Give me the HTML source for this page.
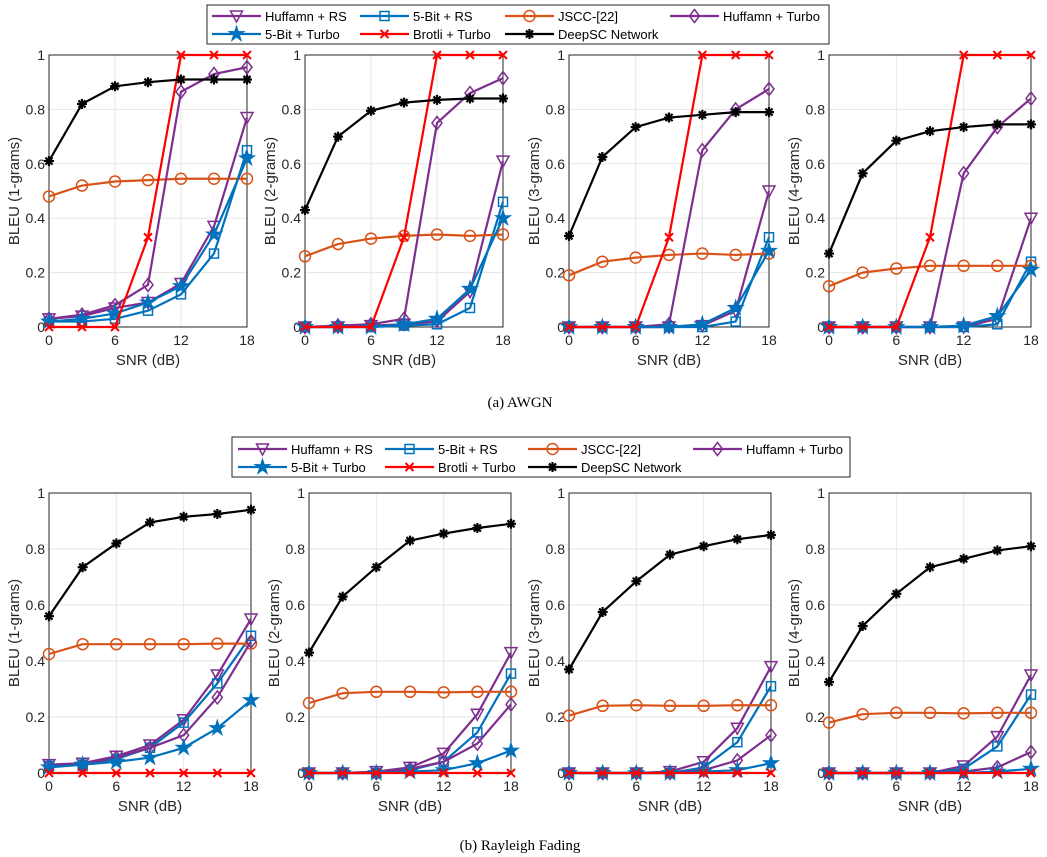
<!DOCTYPE html>
<html><head><meta charset="utf-8"><style>
body{margin:0;background:#fff;}
svg{display:block;font-family:"Liberation Sans",sans-serif;}
</style></head><body>
<svg id="fig" width="1047" height="857" viewBox="0 0 1047 857" xmlns="http://www.w3.org/2000/svg">
<text x="520" y="407" text-anchor="middle" font-family="Liberation Serif,serif" font-size="15">(a)  AWGN</text>
<text x="520" y="850" text-anchor="middle" font-family="Liberation Serif,serif" font-size="15">(b)  Rayleigh Fading</text>
</svg>
<script>
const snr=[0,3,6,9,12,15,18];
const xTicks=[0,6,12,18];
const yTicks=[0,0.2,0.4,0.6,0.8,1];
const yTickLabels=['0','0.2','0.4','0.6','0.8','1'];
const seriesNames=['Huffamn + RS','5-Bit + RS','JSCC-[22]','Huffamn + Turbo','5-Bit + Turbo','Brotli + Turbo','DeepSC Network'];
// AWGN
const awgn1=[[.03,.04,.07,.09,.16,.37,.77],[.02,.02,.03,.06,.12,.27,.65],[.48,.52,.535,.54,.545,.545,.545],[.03,.045,.08,.155,.865,.93,.955],[.02,.03,.05,.09,.15,.34,.62],[0,0,0,.33,1,1,1],[.61,.82,.885,.9,.91,.91,.91]];
const awgn2=[[0,0,.005,.01,.02,.13,.61],[0,0,0,.005,.01,.07,.46],[.26,.305,.325,.335,.34,.335,.34],[0,.005,.01,.03,.75,.86,.915],[0,0,0,.01,.03,.14,.40],[0,0,0,.33,1,1,1],[.43,.70,.795,.825,.835,.84,.84]];
const awgn3=[[0,0,0,0,.005,.06,.50],[0,0,0,0,0,.02,.33],[.19,.24,.255,.265,.27,.265,.27],[0,0,0,.01,.65,.80,.875],[0,0,0,0,.01,.07,.28],[0,0,0,.33,1,1,1],[.335,.625,.735,.77,.78,.79,.79]];
const awgn4=[[0,0,0,0,0,.03,.40],[0,0,0,0,0,.01,.24],[.15,.20,.215,.225,.225,.225,.225],[0,0,0,0,.565,.735,.84],[0,0,0,0,.005,.04,.21],[0,0,0,.33,1,1,1],[.27,.565,.685,.72,.735,.745,.745]];
// Rayleigh
const ray1=[[.03,.035,.06,.10,.19,.35,.55],[.025,.03,.05,.09,.18,.32,.49],[.425,.46,.46,.46,.46,.462,.462],[.025,.03,.055,.09,.135,.27,.47],[.02,.03,.04,.055,.09,.16,.26],[0,0,0,0,0,0,0],[.56,.735,.82,.895,.915,.925,.94]];
const ray2=[[0,0,.005,.02,.07,.21,.43],[0,0,0,.01,.04,.145,.355],[.25,.285,.29,.29,.288,.29,.29],[0,0,0,.015,.04,.105,.245],[0,0,0,.005,.01,.035,.08],[0,0,0,0,0,0,0],[.43,.63,.735,.83,.855,.875,.89]];
const ray3=[[0,0,0,.005,.04,.16,.38],[0,0,0,0,.02,.11,.31],[.205,.24,.242,.24,.24,.242,.242],[0,0,0,0,.01,.045,.135],[0,0,0,0,.005,.01,.035],[0,0,0,0,0,0,0],[.37,.575,.685,.78,.81,.835,.85]];
const ray4=[[0,0,0,0,.025,.13,.35],[0,0,0,0,.015,.095,.28],[.18,.21,.215,.215,.213,.215,.215],[0,0,0,0,.005,.02,.075],[0,0,0,0,0,.005,.015],[0,0,0,0,0,0,0],[.325,.525,.64,.735,.765,.795,.81]];

const colors=['#7E2F8E','#0072BD','#D95319','#7E2F8E','#0072BD','#FF0000','#000000'];
const markers=['tri','sq','circ','dia','star','x','ast'];
const NS='http://www.w3.org/2000/svg';
const svg=document.getElementById('fig');
function mk(tag,attrs,parent){const e=document.createElementNS(NS,tag);for(const k in attrs)e.setAttribute(k,attrs[k]);(parent||svg).appendChild(e);return e;}
function marker(g,type,x,y,c){
  let e;
  if(type==='tri'){e=mk('polygon',{points:`${x-6},${y-5} ${x+6},${y-5} ${x},${y+6}`,fill:'none',stroke:c,'stroke-width':1.5},g);}
  else if(type==='sq'){e=mk('rect',{x:x-4.5,y:y-4.5,width:9,height:9,fill:'none',stroke:c,'stroke-width':1.5},g);}
  else if(type==='circ'){e=mk('circle',{cx:x,cy:y,r:5.5,fill:'none',stroke:c,'stroke-width':1.5},g);}
  else if(type==='dia'){e=mk('polygon',{points:`${x},${y-6.5} ${x+5},${y} ${x},${y+6.5} ${x-5},${y}`,fill:'none',stroke:c,'stroke-width':1.5},g);}
  else if(type==='star'){let p=[];for(let i=0;i<10;i++){const r=i%2?3:8,a=-Math.PI/2+i*Math.PI/5;p.push((x+r*Math.cos(a)).toFixed(1)+','+(y+r*Math.sin(a)).toFixed(1));}e=mk('polygon',{points:p.join(' '),fill:c,stroke:c,'stroke-width':1},g);}
  else if(type==='x'){e=mk('path',{d:`M${x-4},${y-4}L${x+4},${y+4}M${x-4},${y+4}L${x+4},${y-4}`,stroke:c,'stroke-width':2},g);}
  else {let d='';for(let i=0;i<4;i++){const a=i*Math.PI/4;d+=`M${x-5*Math.cos(a)},${y-5*Math.sin(a)}L${x+5*Math.cos(a)},${y+5*Math.sin(a)}`;}e=mk('path',{d:d,stroke:c,'stroke-width':2.2},g);}
  
  
}
function plot(id,L,R,T,B,data,ylabel){
  const g=mk('g',{});
  
  
  const xs=v=>L+(v-0)/18*(R-L), ys=v=>B-v*(B-T);
  yTicks.forEach((t,i)=>{
    const gl=mk('line',{x1:L,x2:R,y1:ys(t),y2:ys(t),stroke:'#e6e6e6','stroke-width':1},g);
    
    const tl=mk('text',{x:L-4,y:ys(t)+5,'text-anchor':'end','font-size':14,fill:'#262626'},g);tl.textContent=yTickLabels[i];
    
  });
  xTicks.forEach(t=>{
    const gl=mk('line',{x1:xs(t),x2:xs(t),y1:T,y2:B,stroke:'#e6e6e6','stroke-width':1},g);
    
    const tl=mk('text',{x:xs(t),y:B+18,'text-anchor':'middle','font-size':14,fill:'#262626'},g);tl.textContent=t;
    
  });
  const box=mk('rect',{x:L,y:T,width:R-L,height:B-T,fill:'none',stroke:'#262626','stroke-width':1},g);
  
  data.forEach((s,si)=>{
    const pl=mk('polyline',{points:s.map((v,i)=>xs(snr[i])+','+ys(v)).join(' '),fill:'none',stroke:colors[si],'stroke-width':2.2},g);
    
    s.forEach((v,i)=>marker(g,markers[si],xs(snr[i]),ys(v),colors[si]));
  });
  const xl=mk('text',{x:(L+R)/2,y:B+38,'text-anchor':'middle','font-size':15,fill:'#262626'},g);xl.textContent='SNR (dB)';
  
  const cy=(T+B)/2, cx=L-30;
  const yl=mk('text',{x:cx,y:cy,'text-anchor':'middle','font-size':15,fill:'#262626',transform:`rotate(-90 ${cx} ${cy})`},g);yl.textContent=ylabel;
  
}
function legend(id,x,y,w,h,cols,rowY){
  const g=mk('g',{});
  
  
  mk('rect',{x:x,y:y,width:w,height:h,fill:'#fff',stroke:'#262626','stroke-width':1},g);
  seriesNames.forEach((n,i)=>{
    const c=cols[i%4], ry=rowY[Math.floor(i/4)];
    const e=mk('g',{},g);
    
    mk('line',{x1:c,x2:c+49,y1:ry,y2:ry,stroke:colors[i],'stroke-width':2.2},e);
    marker(e,markers[i],c+24.5,ry,colors[i]);
    const t=mk('text',{x:c+53,y:ry+5,'font-size':13,fill:'#000'},e);t.textContent=n;
  });
}
const labels=['BLEU (1-grams)','BLEU (2-grams)','BLEU (3-grams)','BLEU (4-grams)'];
const topX=[[49,247],[305,503],[569,769],[829,1031]];
const botX=[[49,251],[309,511],[569,771],[829,1031]];
[awgn1,awgn2,awgn3,awgn4].forEach((d,i)=>plot('awgn-plot-'+(i+1),topX[i][0],topX[i][1],55,327,d,labels[i]));
[ray1,ray2,ray3,ray4].forEach((d,i)=>plot('rayleigh-plot-'+(i+1),botX[i][0],botX[i][1],493,773,d,labels[i]));
legend('legend-awgn',207,5,622,39,[212,360,505,670],[16,34]);
legend('legend-rayleigh',232,437,618,40,[238,385,528,693],[449,467]);
</script>
</body></html>
